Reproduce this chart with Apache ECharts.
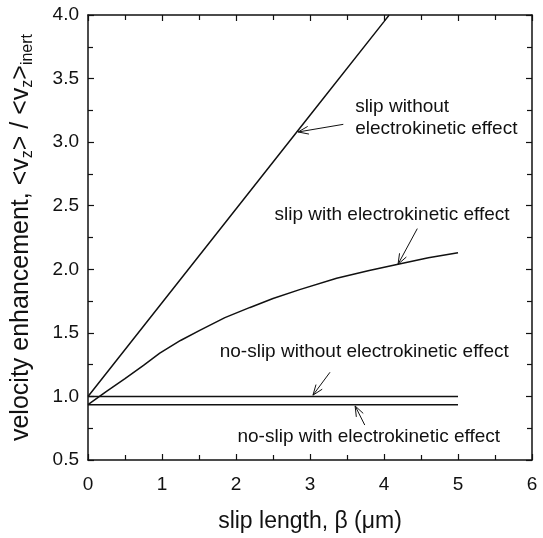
<!DOCTYPE html>
<html>
<head>
<meta charset="utf-8">
<script src="https://cdn.jsdelivr.net/npm/echarts@6/dist/echarts.min.js"></script>
<style>html,body{margin:0;padding:0;background:#fff}#c{width:543px;height:538px}</style>
</head>
<body>
<div id="c"></div>
<script>
// ---- data ----
var xTicks = [0, 1, 2, 3, 4, 5, 6];
var yTicks = [0.5, 1.0, 1.5, 2.0, 2.5, 3.0, 3.5, 4.0];

var slipNoEkX = [0, 1, 2, 3, 4, 4.07];
var slipNoEkY = [1.0, 1.737, 2.474, 3.211, 3.948, 4.0];

var slipEkX = [0, 0.25, 0.5, 0.75, 0.97, 1.25, 1.51, 1.85, 2.19, 2.5, 2.86, 3.36, 3.8, 4.19, 4.6, 5.0];
var slipEkY = [0.935, 1.04, 1.14, 1.245, 1.34, 1.44, 1.52, 1.62, 1.70, 1.77, 1.84, 1.93, 1.99, 2.04, 2.09, 2.13];

var noSlipNoEkX = [0, 5];
var noSlipNoEkY = [1.0, 1.0];

var noSlipEkX = [0, 5];
var noSlipEkY = [0.935, 0.935];

var labelTexts = ['slip without\nelectrokinetic effect', 'slip with electrokinetic effect',
                  'no-slip without electrokinetic effect', 'no-slip with electrokinetic effect'];
var labelX = [3.61, 2.52, 1.78, 2.02];
var labelY = [3.19, 2.43, 1.35, 0.68];

var arrowFromX = [3.45, 4.45, 3.27, 3.74];
var arrowFromY = [3.14, 2.32, 1.19, 0.775];
var arrowToX = [2.84, 4.19, 3.04, 3.61];
var arrowToY = [3.08, 2.04, 1.01, 0.925];

function zip(xs, ys) { return xs.map(function (x, i) { return [x, ys[i]]; }); }

var FONT = '"Liberation Sans", Arial, sans-serif';
var INK = '#111';

var chart = echarts.init(document.getElementById('c'), null, {renderer: 'canvas'});

var lineSeries = function (xs, ys) {
  return {type: 'line', data: zip(xs, ys), symbol: 'none', smooth: false,
          lineStyle: {color: INK, width: 1.5}, xAxisIndex: 0, yAxisIndex: 0, animation: false};
};

var axisCommon = {
  axisLine: {show: true, onZero: false, lineStyle: {color: INK, width: 1.5}},
  axisTick: {show: true, inside: true, length: 6, lineStyle: {color: INK, width: 1.2}},
  minorTick: {show: true, splitNumber: 2, length: 5, lineStyle: {color: INK, width: 1.2}},
  splitLine: {show: false}
};

var option = {
  animation: false,
  backgroundColor: '#fff',
  grid: {left: 88, right: 11, top: 15, bottom: 78, containLabel: false},
  xAxis: [
    Object.assign({
      type: 'value', min: 0, max: 6, interval: 1, position: 'bottom',
      axisLabel: {color: INK, fontSize: 19, fontFamily: FONT, margin: 15,
                  formatter: function (v) { return xTicks.indexOf(v) >= 0 ? String(v) : ''; }},
      name: 'slip length, \u03b2 (\u03bcm)', nameLocation: 'middle', nameGap: 50,
      nameTextStyle: {color: INK, fontSize: 23, fontFamily: FONT}
    }, axisCommon),
    Object.assign({
      type: 'value', min: 0, max: 6, interval: 1, position: 'top',
      axisLabel: {show: false}
    }, axisCommon)
  ],
  yAxis: [
    Object.assign({
      type: 'value', min: 0.5, max: 4.0, interval: 0.5, position: 'left',
      axisLabel: {color: INK, fontSize: 19, fontFamily: FONT, margin: 9,
                  formatter: function (v) { return v.toFixed(1); }},
      name: '{n|velocity enhancement, <v}{s|z}{n|> / <v}{s|z}{n|>}{s|inert}',
      nameLocation: 'middle', nameGap: 52, nameRotate: 90,
      nameTextStyle: {color: INK, fontSize: 25, fontFamily: FONT,
        rich: {
          n: {fontSize: 25, lineHeight: 30, fontFamily: FONT, color: INK},
          s: {fontSize: 16, lineHeight: 16, verticalAlign: 'bottom', fontFamily: FONT, color: INK}
        }}
    }, axisCommon),
    Object.assign({
      type: 'value', min: 0.5, max: 4.0, interval: 0.5, position: 'right',
      axisLabel: {show: false}
    }, axisCommon)
  ],
  series: [
    lineSeries(slipNoEkX, slipNoEkY),
    lineSeries(slipEkX, slipEkY),
    lineSeries(noSlipNoEkX, noSlipNoEkY),
    lineSeries(noSlipEkX, noSlipEkY),
    {
      type: 'custom', xAxisIndex: 0, yAxisIndex: 0, silent: true,
      data: labelTexts.map(function (t, i) { return [labelX[i], labelY[i], i]; }),
      renderItem: function (params, api) {
        var i = api.value(2);
        var p = api.coord([api.value(0), api.value(1)]);
        return {type: 'text', x: p[0], y: p[1],
          style: {text: labelTexts[i], fill: INK, font: '19px ' + FONT,
                  textAlign: 'left', textVerticalAlign: 'middle', lineHeight: 22}};
      }
    },
    {
      type: 'custom', xAxisIndex: 0, yAxisIndex: 0, silent: true,
      data: arrowFromX.map(function (x, i) { return [x, arrowFromY[i], arrowToX[i], arrowToY[i]]; }),
      renderItem: function (params, api) {
        var a = api.coord([api.value(0), api.value(1)]);
        var b = api.coord([api.value(2), api.value(3)]);
        var ang = Math.atan2(a[1] - b[1], a[0] - b[0]);
        var L = 11, w = 0.36;
        var h1 = [b[0] + L * Math.cos(ang + w), b[1] + L * Math.sin(ang + w)];
        var h2 = [b[0] + L * Math.cos(ang - w), b[1] + L * Math.sin(ang - w)];
        return {type: 'group', children: [
          {type: 'line', shape: {x1: a[0], y1: a[1], x2: b[0], y2: b[1]},
           style: {stroke: INK, lineWidth: 1}},
          {type: 'polyline', shape: {points: [h1, b, h2]},
           style: {stroke: INK, lineWidth: 1, fill: null}}
        ]};
      }
    }
  ]
};
chart.setOption(option);
</script>
</body>
</html>
